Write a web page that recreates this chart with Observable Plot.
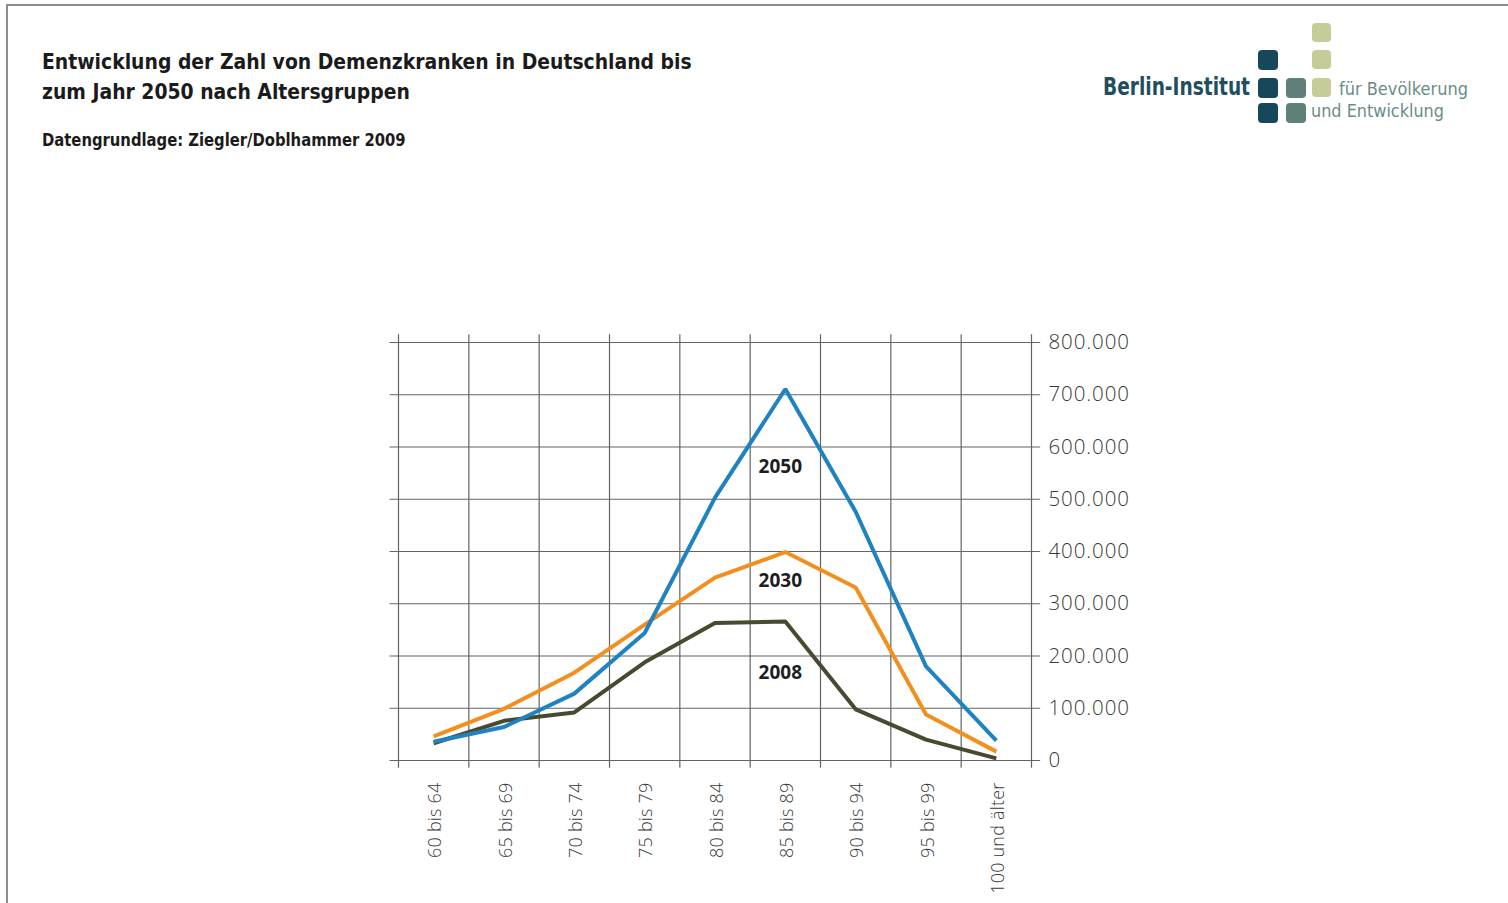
<!DOCTYPE html>
<html lang="de">
<head>
<meta charset="utf-8">
<script src="https://cdn.jsdelivr.net/npm/d3@7"></script>
<script src="https://cdn.jsdelivr.net/npm/@observablehq/plot@0.6"></script>
<style>
  html, body { margin: 0; padding: 0; background: #fff; }
  body { width: 1508px; height: 903px; position: relative; overflow: hidden; }
  .frame { position: absolute; left: 6px; top: 4px; width: 1520px; height: 920px;
           border-top: 2px solid #8c8c8c; border-left: 2px solid #8c8c8c; }
  .title { position: absolute; left: 42px; top: 47px; margin: 0;
           font-family: "DejaVu Sans Condensed", sans-serif;
           font-weight: bold; font-size: 22px; line-height: 30px; color: #1b1b1b;
           transform: scaleX(0.95); transform-origin: 0 0; white-space: nowrap; }
  .source { position: absolute; left: 42px; top: 130px; margin: 0;
            font-family: "DejaVu Sans Condensed", sans-serif;
            font-weight: bold; font-size: 17.5px; color: #1b1b1b;
            transform: scaleX(0.94); transform-origin: 0 0; white-space: nowrap; }
  .logo { position: absolute; left: 1090px; top: 15px; }
  #chart { position: absolute; left: 0; top: 300px; }
  #chart g[aria-label="y-axis tick label"] text { letter-spacing: 0.9px; }
  #chart g[aria-label="x-axis tick label"] text { letter-spacing: 0.2px; }
</style>
</head>
<body>
<div class="frame"></div>
<h1 class="title">Entwicklung der Zahl von Demenzkranken in Deutschland bis<br>zum Jahr 2050 nach Altersgruppen</h1>
<p class="source">Datengrundlage: Ziegler/Doblhammer 2009</p>

<svg class="logo" width="400" height="120" viewBox="1090 15 400 120">
  <g font-family="'DejaVu Sans Condensed', sans-serif">
    <text x="1103" y="95" font-size="24" font-weight="bold" fill="#1f4f5e"
          textLength="147" lengthAdjust="spacingAndGlyphs">Berlin-Institut</text>
    <text x="1339" y="95" font-size="18" fill="#6a8c86"
          textLength="129" lengthAdjust="spacingAndGlyphs">für Bevölkerung</text>
    <text x="1311" y="117" font-size="18" fill="#6a8c86"
          textLength="133" lengthAdjust="spacingAndGlyphs">und Entwicklung</text>
  </g>
  <g>
    <rect x="1258" y="50" width="20" height="20" rx="4" fill="#17475a"/>
    <rect x="1258" y="78" width="20" height="20" rx="4" fill="#17475a"/>
    <rect x="1258" y="103" width="20" height="20" rx="4" fill="#17475a"/>
    <rect x="1286" y="78" width="20" height="20" rx="4" fill="#5f7f79"/>
    <rect x="1286" y="103" width="20" height="20" rx="4" fill="#5f7f79"/>
    <rect x="1312" y="23" width="19" height="19" rx="4" fill="#c6cc98"/>
    <rect x="1312" y="50" width="19" height="19" rx="4" fill="#c6cc98"/>
    <rect x="1312" y="78" width="19" height="19" rx="4" fill="#c6cc98"/>
  </g>
</svg>

<div id="chart"></div>

<script>
// Age groups along the x axis
const ageGroups = ["60 bis 64", "65 bis 69", "70 bis 74", "75 bis 79", "80 bis 84",
                   "85 bis 89", "90 bis 94", "95 bis 99", "100 und älter"];

// Number of dementia patients per age group
const cases2008 = [33000, 76000, 92000, 188000, 263000, 266000, 98000, 40000, 4000];
const cases2030 = [46000, 99000, 168000, 260000, 350000, 399000, 331000, 88000, 17000];
const cases2050 = [36000, 64000, 128000, 244000, 503000, 711000, 476000, 180000, 38000];

const years = ["2008", "2030", "2050"];
const yTicks = [0, 100000, 200000, 300000, 400000, 500000, 600000, 700000, 800000];

// Series names written next to the 85–89 column (value where each name sits)
const seriesLabels = [
  { year: "2050", value: 561000 },
  { year: "2030", value: 343000 },
  { year: "2008", value: 168000 }
];

const seriesByYear = { "2008": cases2008, "2030": cases2030, "2050": cases2050 };
const rows = years.flatMap(year =>
  seriesByYear[year].map((value, i) => ({ year, index: i, age: ageGroups[i], value })));

const labelColumn = ageGroups.indexOf("85 bis 89");
const bandEdges = d3.range(ageGroups.length + 1).map(i => i - 0.5);

const de = d3.formatLocale({ decimal: ",", thousands: ".", grouping: [3], currency: ["", " €"] });
const fmt = de.format(",d");

const chart = Plot.plot({
  width: 1508,
  height: 603,
  marginLeft: 398,
  marginRight: 477,
  marginTop: 42,
  marginBottom: 143,
  x: { type: "linear", domain: [-0.5, ageGroups.length - 0.5] },
  y: { domain: [0, 800000] },
  color: { domain: years, range: ["#464a2f", "#f1901f", "#1f82c1"] },
  style: { fontFamily: "'Open Sans', sans-serif", background: "transparent", overflow: "visible" },
  marks: [
    // grid: vertical lines on the band edges, horizontal lines at each tick
    Plot.ruleX(bandEdges, { y1: -15000, y2: 815000, stroke: "#636363", strokeWidth: 1.2 }),
    Plot.ruleY(yTicks, { x1: -0.62, x2: ageGroups.length - 0.37, stroke: "#636363", strokeWidth: 1.2 }),
    Plot.axisY({
      anchor: "right", ticks: yTicks, tickSize: 0, tickPadding: 17, label: null,
      tickFormat: fmt, fontSize: 20.5, fontWeight: 300, fill: "#383838"
    }),
    Plot.axisX({
      ticks: d3.range(ageGroups.length), tickFormat: i => ageGroups[i], tickRotate: -90,
      tickSize: 0, tickPadding: 22, label: null, fontSize: 18, fontWeight: 300, fill: "#383838",
      dx: 2
    }),
    Plot.line(rows, {
      x: "index", y: "value", z: "year", stroke: "year",
      strokeWidth: 4, strokeLinejoin: "miter", strokeLinecap: "butt"
    }),
    Plot.text(seriesLabels, {
      x: () => labelColumn, y: "value", text: "year", dx: -5,
      fontSize: 19, fontWeight: "bold", fill: "#1e1e1e"
    })
  ]
});

document.getElementById("chart").append(chart);
</script>
</body>
</html>
